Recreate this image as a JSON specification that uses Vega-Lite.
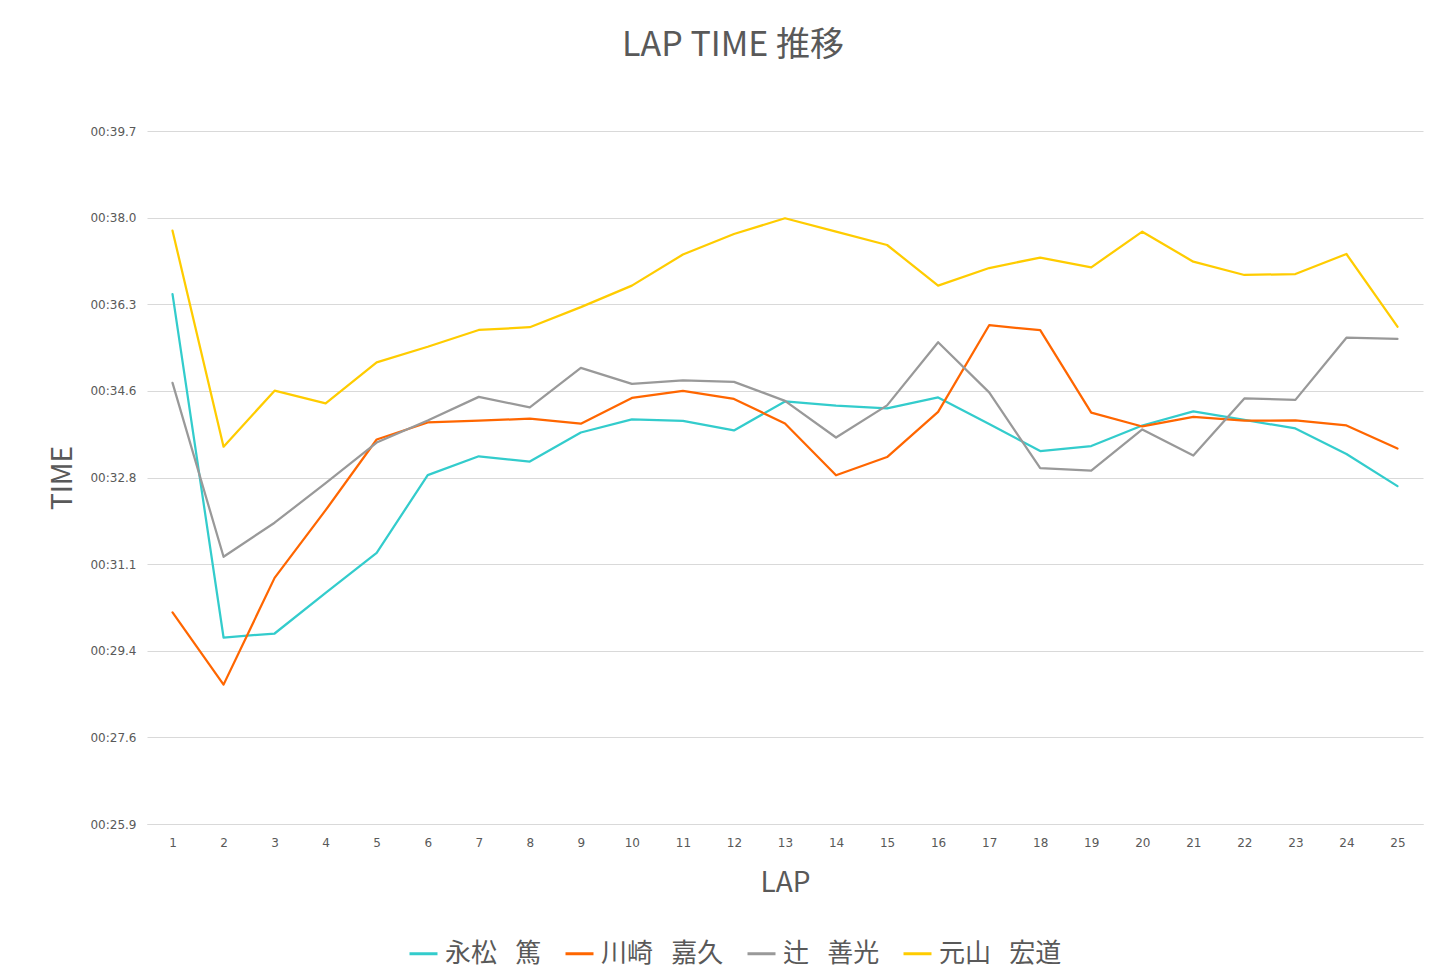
{
  "$schema": "https://vega.github.io/schema/vega-lite/v6.json",
  "width": 1276,
  "height": 693,
  "autosize": {"type": "none"},
  "padding": {"left": 147, "top": 131, "right": 14, "bottom": 150},
  "background": "white",
  "title": {
    "text": "LAP TIME 推移",
    "font": "Noto Sans CJK JP",
    "fontSize": 34,
    "fontWeight": "normal",
    "color": "#595959",
    "anchor": "middle",
    "frame": "group",
    "baseline": "alphabetic",
    "offset": 35,
    "dx": -52
  },
  "datasets": {
    "laps": [
      {"lap": 1, "name": "永松\u2002\u2009篤", "time": 36.49},
      {"lap": 2, "name": "永松\u2002\u2009篤", "time": 29.64},
      {"lap": 3, "name": "永松\u2002\u2009篤", "time": 29.72},
      {"lap": 4, "name": "永松\u2002\u2009篤", "time": 30.53},
      {"lap": 5, "name": "永松\u2002\u2009篤", "time": 31.33},
      {"lap": 6, "name": "永松\u2002\u2009篤", "time": 32.88},
      {"lap": 7, "name": "永松\u2002\u2009篤", "time": 33.255},
      {"lap": 8, "name": "永松\u2002\u2009篤", "time": 33.15},
      {"lap": 9, "name": "永松\u2002\u2009篤", "time": 33.73},
      {"lap": 10, "name": "永松\u2002\u2009篤", "time": 33.99},
      {"lap": 11, "name": "永松\u2002\u2009篤", "time": 33.96},
      {"lap": 12, "name": "永松\u2002\u2009篤", "time": 33.77},
      {"lap": 13, "name": "永松\u2002\u2009篤", "time": 34.35},
      {"lap": 14, "name": "永松\u2002\u2009篤", "time": 34.265},
      {"lap": 15, "name": "永松\u2002\u2009篤", "time": 34.21},
      {"lap": 16, "name": "永松\u2002\u2009篤", "time": 34.43},
      {"lap": 17, "name": "永松\u2002\u2009篤", "time": 33.9},
      {"lap": 18, "name": "永松\u2002\u2009篤", "time": 33.36},
      {"lap": 19, "name": "永松\u2002\u2009篤", "time": 33.46},
      {"lap": 20, "name": "永松\u2002\u2009篤", "time": 33.87},
      {"lap": 21, "name": "永松\u2002\u2009篤", "time": 34.15},
      {"lap": 22, "name": "永松\u2002\u2009篤", "time": 33.98},
      {"lap": 23, "name": "永松\u2002\u2009篤", "time": 33.81},
      {"lap": 24, "name": "永松\u2002\u2009篤", "time": 33.3},
      {"lap": 25, "name": "永松\u2002\u2009篤", "time": 32.66},
      {"lap": 1, "name": "川崎\u2002\u2009嘉久", "time": 30.14},
      {"lap": 2, "name": "川崎\u2002\u2009嘉久", "time": 28.7},
      {"lap": 3, "name": "川崎\u2002\u2009嘉久", "time": 30.83},
      {"lap": 4, "name": "川崎\u2002\u2009嘉久", "time": 32.18},
      {"lap": 5, "name": "川崎\u2002\u2009嘉久", "time": 33.59},
      {"lap": 6, "name": "川崎\u2002\u2009嘉久", "time": 33.93},
      {"lap": 7, "name": "川崎\u2002\u2009嘉久", "time": 33.965},
      {"lap": 8, "name": "川崎\u2002\u2009嘉久", "time": 34.005},
      {"lap": 9, "name": "川崎\u2002\u2009嘉久", "time": 33.905},
      {"lap": 10, "name": "川崎\u2002\u2009嘉久", "time": 34.42},
      {"lap": 11, "name": "川崎\u2002\u2009嘉久", "time": 34.56},
      {"lap": 12, "name": "川崎\u2002\u2009嘉久", "time": 34.4},
      {"lap": 13, "name": "川崎\u2002\u2009嘉久", "time": 33.91},
      {"lap": 14, "name": "川崎\u2002\u2009嘉久", "time": 32.876},
      {"lap": 15, "name": "川崎\u2002\u2009嘉久", "time": 33.24},
      {"lap": 16, "name": "川崎\u2002\u2009嘉久", "time": 34.14},
      {"lap": 17, "name": "川崎\u2002\u2009嘉久", "time": 35.87},
      {"lap": 18, "name": "川崎\u2002\u2009嘉久", "time": 35.77},
      {"lap": 19, "name": "川崎\u2002\u2009嘉久", "time": 34.125},
      {"lap": 20, "name": "川崎\u2002\u2009嘉久", "time": 33.85},
      {"lap": 21, "name": "川崎\u2002\u2009嘉久", "time": 34.04},
      {"lap": 22, "name": "川崎\u2002\u2009嘉久", "time": 33.965},
      {"lap": 23, "name": "川崎\u2002\u2009嘉久", "time": 33.97},
      {"lap": 24, "name": "川崎\u2002\u2009嘉久", "time": 33.87},
      {"lap": 25, "name": "川崎\u2002\u2009嘉久", "time": 33.41},
      {"lap": 1, "name": "辻\u2002\u2009善光", "time": 34.72},
      {"lap": 2, "name": "辻\u2002\u2009善光", "time": 31.25},
      {"lap": 3, "name": "辻\u2002\u2009善光", "time": 31.93},
      {"lap": 4, "name": "辻\u2002\u2009善光", "time": 32.72},
      {"lap": 5, "name": "辻\u2002\u2009善光", "time": 33.53},
      {"lap": 6, "name": "辻\u2002\u2009善光", "time": 33.97},
      {"lap": 7, "name": "辻\u2002\u2009善光", "time": 34.44},
      {"lap": 8, "name": "辻\u2002\u2009善光", "time": 34.23},
      {"lap": 9, "name": "辻\u2002\u2009善光", "time": 35.02},
      {"lap": 10, "name": "辻\u2002\u2009善光", "time": 34.7},
      {"lap": 11, "name": "辻\u2002\u2009善光", "time": 34.77},
      {"lap": 12, "name": "辻\u2002\u2009善光", "time": 34.74},
      {"lap": 13, "name": "辻\u2002\u2009善光", "time": 34.36},
      {"lap": 14, "name": "辻\u2002\u2009善光", "time": 33.63},
      {"lap": 15, "name": "辻\u2002\u2009善光", "time": 34.27},
      {"lap": 16, "name": "辻\u2002\u2009善光", "time": 35.53},
      {"lap": 17, "name": "辻\u2002\u2009善光", "time": 34.53},
      {"lap": 18, "name": "辻\u2002\u2009善光", "time": 33.02},
      {"lap": 19, "name": "辻\u2002\u2009善光", "time": 32.97},
      {"lap": 20, "name": "辻\u2002\u2009善光", "time": 33.79},
      {"lap": 21, "name": "辻\u2002\u2009善光", "time": 33.27},
      {"lap": 22, "name": "辻\u2002\u2009善光", "time": 34.41},
      {"lap": 23, "name": "辻\u2002\u2009善光", "time": 34.38},
      {"lap": 24, "name": "辻\u2002\u2009善光", "time": 35.62},
      {"lap": 25, "name": "辻\u2002\u2009善光", "time": 35.595},
      {"lap": 1, "name": "元山\u2002\u2009宏道", "time": 37.755},
      {"lap": 2, "name": "元山\u2002\u2009宏道", "time": 33.447},
      {"lap": 3, "name": "元山\u2002\u2009宏道", "time": 34.564},
      {"lap": 4, "name": "元山\u2002\u2009宏道", "time": 34.312},
      {"lap": 5, "name": "元山\u2002\u2009宏道", "time": 35.13},
      {"lap": 6, "name": "元山\u2002\u2009宏道", "time": 35.44},
      {"lap": 7, "name": "元山\u2002\u2009宏道", "time": 35.775},
      {"lap": 8, "name": "元山\u2002\u2009宏道", "time": 35.83},
      {"lap": 9, "name": "元山\u2002\u2009宏道", "time": 36.23},
      {"lap": 10, "name": "元山\u2002\u2009宏道", "time": 36.66},
      {"lap": 11, "name": "元山\u2002\u2009宏道", "time": 37.28},
      {"lap": 12, "name": "元山\u2002\u2009宏道", "time": 37.69},
      {"lap": 13, "name": "元山\u2002\u2009宏道", "time": 38.003},
      {"lap": 14, "name": "元山\u2002\u2009宏道", "time": 37.736},
      {"lap": 15, "name": "元山\u2002\u2009宏道", "time": 37.47},
      {"lap": 16, "name": "元山\u2002\u2009宏道", "time": 36.66},
      {"lap": 17, "name": "元山\u2002\u2009宏道", "time": 37.01},
      {"lap": 18, "name": "元山\u2002\u2009宏道", "time": 37.22},
      {"lap": 19, "name": "元山\u2002\u2009宏道", "time": 37.025},
      {"lap": 20, "name": "元山\u2002\u2009宏道", "time": 37.736},
      {"lap": 21, "name": "元山\u2002\u2009宏道", "time": 37.137},
      {"lap": 22, "name": "元山\u2002\u2009宏道", "time": 36.872},
      {"lap": 23, "name": "元山\u2002\u2009宏道", "time": 36.89},
      {"lap": 24, "name": "元山\u2002\u2009宏道", "time": 37.29},
      {"lap": 25, "name": "元山\u2002\u2009宏道", "time": 35.84}
    ]
  },
  "data": {"name": "laps"},
  "mark": {"type": "line", "strokeWidth": 2.25, "strokeCap": "round", "strokeJoin": "round"},
  "encoding": {
    "x": {
      "field": "lap",
      "type": "ordinal",
      "scale": {"type": "point", "padding": 0.5},
      "axis": {
        "title": "LAP",
        "titleFont": "Noto Sans CJK JP",
        "titleFontSize": 28,
        "titleFontWeight": "normal",
        "titleColor": "#595959",
        "titlePadding": 21,
        "labelAngle": 0,
        "labelFont": "DejaVu Sans",
        "labelFontSize": 12,
        "labelColor": "#595959",
        "labelPadding": 13,
        "ticks": false,
        "domain": true,
        "domainColor": "#d9d9d9",
        "domainWidth": 1,
        "grid": false
      }
    },
    "y": {
      "field": "time",
      "type": "quantitative",
      "scale": {"domain": [25.92, 39.744], "nice": false, "zero": false},
      "axis": {
        "title": "TIME",
        "titleFont": "Noto Sans CJK JP",
        "titleFontSize": 28,
        "titleFontWeight": "normal",
        "titleColor": "#595959",
        "titlePadding": 12,
        "values": [25.92, 27.648, 29.376, 31.104, 32.832, 34.56, 36.288, 38.016, 39.744],
        "labelExpr": "'00:' + format(datum.value, '.1f')",
        "labelFont": "DejaVu Sans",
        "labelFontSize": 12,
        "labelColor": "#595959",
        "labelPadding": 11,
        "ticks": false,
        "domain": false,
        "grid": true,
        "gridColor": "#d9d9d9",
        "gridWidth": 1
      }
    },
    "color": {
      "field": "name",
      "type": "nominal",
      "sort": null,
      "scale": {
        "domain": ["永松\u2002\u2009篤", "川崎\u2002\u2009嘉久", "辻\u2002\u2009善光", "元山\u2002\u2009宏道"],
        "range": ["#33CCCC", "#FF6600", "#999999", "#FFCC00"]
      },
      "legend": {
        "title": null,
        "orient": "none",
        "direction": "horizontal",
        "legendX": 261,
        "legendY": 807,
        "symbolType": "stroke",
        "symbolSize": 784,
        "symbolStrokeWidth": 3,
        "labelFont": "Noto Sans CJK JP",
        "labelFontSize": 26,
        "labelColor": "#595959",
        "labelOffset": 6,
        "columnPadding": 17,
        "labelLimit": 400
      }
    }
  },
  "config": {
    "view": {"stroke": null}
  }
}
